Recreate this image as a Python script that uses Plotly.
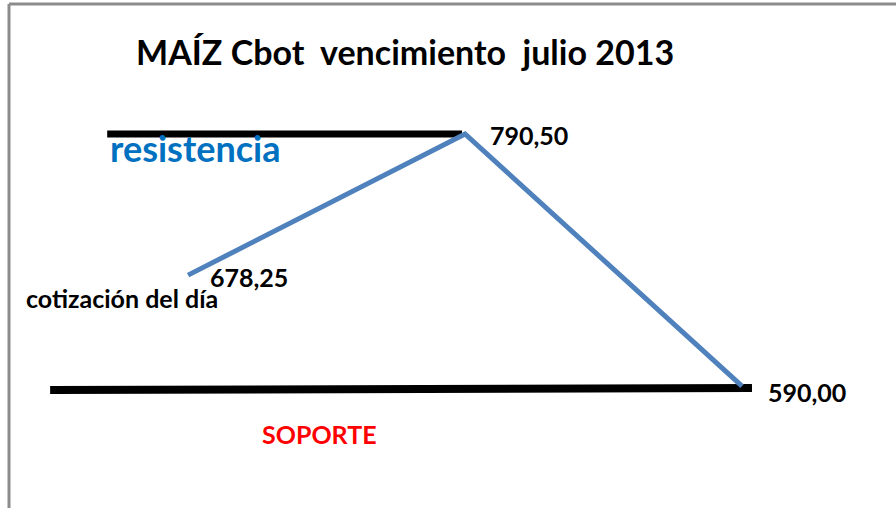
import plotly.graph_objects as go

# ---- data ----
puntos = [0, 1, 2]                      # sequence of points
cotizacion = [678.25, 790.50, 590.00]   # price values
etiquetas = ["678,25", "790,50", "590,00"]
resistencia_nivel = 790.50
soporte_nivel = [586.8, 588.4]
resistencia_x = [-0.292, 0.989]
soporte_x = [-0.498, 2.036]

titulo = "MAÍZ Cbot\u00a0 vencimiento\u00a0 julio 2013"

W, H = 896, 508
FONT = "Lato"

fig = go.Figure()

# resistance line
fig.add_trace(go.Scatter(x=resistencia_x, y=[resistencia_nivel] * 2, mode="lines",
                         line=dict(color="black", width=7), hoverinfo="skip", showlegend=False))
# support line
fig.add_trace(go.Scatter(x=soporte_x, y=soporte_nivel, mode="lines",
                         line=dict(color="black", width=8), hoverinfo="skip", showlegend=False))
# price line
fig.add_trace(go.Scatter(x=puntos, y=cotizacion, mode="lines",
                         line=dict(color="#4F81BD", width=5), hoverinfo="skip", showlegend=False))

lab = dict(family=FONT, size=25, color="black", weight="bold")
ann = []
# value labels
ann.append(dict(x=puntos[0], y=cotizacion[0], text=etiquetas[0], xanchor="left", yanchor="middle",
                xshift=20, yshift=-2, showarrow=False, font=lab))
ann.append(dict(x=puntos[1], y=cotizacion[1], text=etiquetas[1], xanchor="left", yanchor="middle",
                xshift=23, yshift=-1, showarrow=False, font=lab))
ann.append(dict(x=puntos[2], y=cotizacion[2], text=etiquetas[2], xanchor="left", yanchor="middle",
                xshift=24, yshift=-6, showarrow=False, font=lab))


def px(x, y):
    return x / W, 1 - y / H


# other texts
tx, ty = px(134, 51)
ann.append(dict(xref="paper", yref="paper", x=tx, y=ty, text=titulo, xanchor="left", yanchor="middle",
                showarrow=False, font=dict(family=FONT, size=34, color="black", weight="bold")))
tx, ty = px(108, 148)
ann.append(dict(xref="paper", yref="paper", x=tx, y=ty, text="resistencia", xanchor="left", yanchor="middle",
                showarrow=False, font=dict(family=FONT, size=36, color="#0070C0", weight="bold")))
tx, ty = px(24, 298)
ann.append(dict(xref="paper", yref="paper", x=tx, y=ty, text="cotización del día", xanchor="left", yanchor="middle",
                showarrow=False, font=dict(family=FONT, size=25, color="black", weight="bold")))
tx, ty = px(260, 434)
ann.append(dict(xref="paper", yref="paper", x=tx, y=ty, text="SOPORTE", xanchor="left", yanchor="middle",
                showarrow=False, font=dict(family=FONT, size=25, color="#FF0000", weight="bold")))

fig.update_layout(
    width=W, height=H,
    margin=dict(l=0, r=0, t=0, b=0),
    paper_bgcolor="white", plot_bgcolor="white",
    xaxis=dict(range=[-0.679, 2.556], visible=False, fixedrange=True),
    yaxis=dict(range=[493.0, 897.1], visible=False, fixedrange=True),
    annotations=ann,
    shapes=[
        dict(type="line", xref="paper", yref="paper", x0=9 / W, x1=9 / W, y0=-0.05, y1=1 - 4 / H,
             line=dict(color="#8C8C8C", width=3)),
        dict(type="line", xref="paper", yref="paper", x0=9 / W, x1=1.05, y0=1 - 4 / H, y1=1 - 4 / H,
             line=dict(color="#8C8C8C", width=3)),
    ],
)

fig.write_html("out.html", config={"displayModeBar": False},
               post_script="document.body.style.margin='0';document.body.style.overflow='hidden';")
